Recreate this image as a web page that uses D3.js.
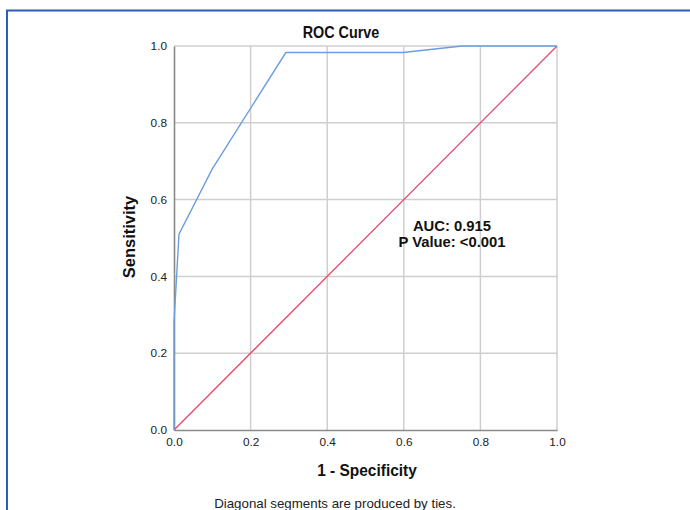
<!DOCTYPE html>
<html><head><meta charset="utf-8">
<script src="https://cdn.jsdelivr.net/npm/d3@7"></script>
<style>
html,body{margin:0;padding:0;background:#fff;}
svg{display:block;font-family:"Liberation Sans",Arial,sans-serif;}
</style></head>
<body>
<svg id="c" width="690" height="510"></svg>
<script>
// Data
const rocFpr = [0, 0, 0.013, 0.1, 0.292, 0.598, 0.752, 1.0];
const rocTpr = [0, 0.28, 0.51, 0.68, 0.983, 0.983, 1.0, 1.0];
const refLine = [0, 1];
const xTicks = [0, 0.2, 0.4, 0.6, 0.8, 1.0];
const yTicks = [0, 0.2, 0.4, 0.6, 0.8, 1.0];
const annotationLines = ["AUC: 0.915", "P Value: <0.001"];

const svg = d3.select("#c");
const W = 690, H = 510;
const L = 174, R = 557, T = 46, B = 430;
const x = d3.scaleLinear().domain([0,1]).range([L,R]);
const y = d3.scaleLinear().domain([0,1]).range([B,T]);

svg.append("rect").attr("width",W).attr("height",H).attr("fill","#fff");
// outer blue frame
svg.append("path").attr("d",`M7,${H} L7,10.5 L${W},10.5`).attr("fill","none")
  .attr("stroke","#2f5cb8").attr("stroke-width",2);

// grid
const grid = svg.append("g");
grid.selectAll("line.v").data(xTicks.slice(1)).join("line")
  .attr("x1",d=>x(d)).attr("x2",d=>x(d)).attr("y1",T).attr("y2",B)
  .attr("stroke","#cfcfcf").attr("stroke-width",1.5);
grid.selectAll("line.h").data(yTicks.slice(1)).join("line")
  .attr("x1",L).attr("x2",R).attr("y1",d=>y(d)).attr("y2",d=>y(d))
  .attr("stroke","#cfcfcf").attr("stroke-width",1.5);

// axes
const xAxis = d3.axisBottom(x).tickValues(xTicks).tickFormat(d3.format(".1f")).tickSize(0).tickPadding(8);
const yAxis = d3.axisLeft(y).tickValues(yTicks).tickFormat(d3.format(".1f")).tickSize(0).tickPadding(7);
const gx = svg.append("g").attr("transform",`translate(0,${B})`).call(xAxis);
const gy = svg.append("g").attr("transform",`translate(${L},0)`).call(yAxis);
[gx,gy].forEach(g=>{
  g.select(".domain").attr("stroke","#8a8a8a").attr("stroke-width",1.6);
  g.selectAll("text").attr("font-size",11.8).attr("fill","#222").attr("font-family","'Liberation Sans',Arial,sans-serif");
});

// reference diagonal
svg.append("line").attr("x1",x(refLine[0])).attr("y1",y(refLine[0]))
  .attr("x2",x(refLine[1])).attr("y2",y(refLine[1]))
  .attr("stroke","#e8486c").attr("stroke-width",1.3);

// ROC curve
const pts = rocFpr.map((f,i)=>[f,rocTpr[i]]);
svg.append("path").datum(pts)
  .attr("d",d3.line().x(d=>x(d[0])).y(d=>y(d[1])))
  .attr("fill","none").attr("stroke","#6b9ee0").attr("stroke-width",1.4);

// titles
svg.append("text").attr("transform","translate(341,38) scale(0.87,1)").attr("text-anchor","middle")
  .attr("font-size",16.5).attr("font-weight","bold").attr("fill","#111").text("ROC Curve");
svg.append("text").attr("transform","translate(135,237) rotate(-90)").attr("text-anchor","middle")
  .attr("font-size",16.5).attr("font-weight","bold").attr("fill","#111").text("Sensitivity");
svg.append("text").attr("transform","translate(367,476) scale(0.95,1)").attr("text-anchor","middle")
  .attr("font-size",16.3).attr("font-weight","bold").attr("fill","#111").text("1 - Specificity");
svg.append("text").attr("x",335).attr("y",508).attr("text-anchor","middle")
  .attr("font-size",13.3).attr("fill","#222").text("Diagonal segments are produced by ties.");

// annotation
svg.selectAll("text.ann").data(annotationLines).join("text").attr("class","ann")
  .attr("x",452).attr("y",(d,i)=>231+i*16).attr("text-anchor","middle")
  .attr("font-size",14.8).attr("font-weight","bold").attr("fill","#111").text(d=>d);
</script>
</body></html>
